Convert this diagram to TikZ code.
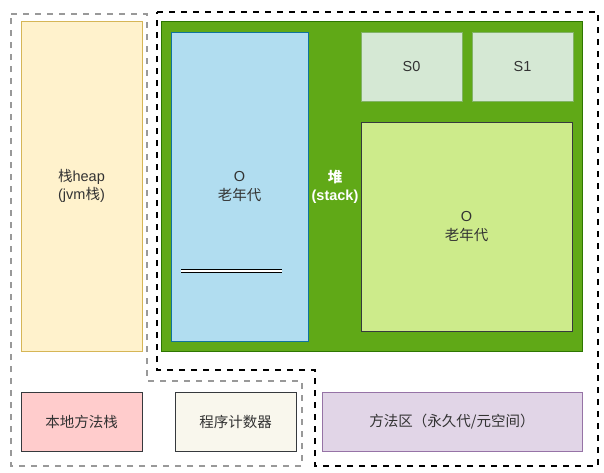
\documentclass[tikz,border=0pt]{standalone}
\usepackage{fontspec}
\setmainfont{Liberation Sans}
\newfontfamily\cjk{Noto Sans CJK SC}
\usetikzlibrary{positioning}

\definecolor{stackfill}{HTML}{FFF2CC}
\definecolor{stackline}{HTML}{D6B656}
\definecolor{heapfill}{HTML}{60A917}
\definecolor{heapline}{HTML}{2D7600}
\definecolor{oldfill}{HTML}{B1DDF0}
\definecolor{oldline}{HTML}{10739E}
\definecolor{survfill}{HTML}{D5E8D4}
\definecolor{survline}{HTML}{82B366}
\definecolor{edenfill}{HTML}{CDEB8B}
\definecolor{darkline}{HTML}{36393D}
\definecolor{nativefill}{HTML}{FFCCCC}
\definecolor{pcfill}{HTML}{F9F7ED}
\definecolor{methodfill}{HTML}{E1D5E7}
\definecolor{methodline}{HTML}{9673A6}
\definecolor{regiongray}{HTML}{999999}
\definecolor{txt}{HTML}{333333}

\begin{document}
\begin{tikzpicture}[x=1pt, y=-1pt, every node/.style={draw, line width=0.8pt, align=center, inner sep=0pt, outer sep=0pt, anchor=north west, text=txt, font=\fontsize{14.5}{18.5}\selectfont}, region/.style={line width=2pt, dash pattern=on 6pt off 6pt}]
\useasboundingbox (0,0) rectangle (604,472);

% Regions
\draw[region, regiongray] (11,14) -- (147,14) -- (147,381) -- (302,381) -- (302,466) -- (11,466) -- cycle;
\draw[region, black] (157,12) -- (598,12) -- (598,466) -- (315,466) -- (315,370) -- (157,370) -- cycle;

% Nodes
\node (stack) [fill=stackfill, draw=stackline, minimum width=121pt, minimum height=330pt] at (21,21) {{\cjk 栈}heap\\({jvm\cjk 栈})};
\node (heap) [fill=heapfill, draw=heapline, minimum width=421pt, minimum height=330pt] at (161,21) {};
\node (old) [fill=oldfill, draw=oldline, minimum width=137pt, minimum height=309pt] at (171,32) {O\\{\cjk 老年代}};
\node (s0) [fill=survfill, draw=survline, minimum width=101pt, minimum height=69pt] at (361,32) {S0};
\node (s1) [fill=survfill, draw=survline, minimum width=101pt, minimum height=69pt, right=10pt of s0.north east, anchor=north west] {S1};
\node (eden) [fill=edenfill, draw=darkline, minimum width=211pt, minimum height=209pt, below=21pt of s0.south west, anchor=north west] {O\\{\cjk 老年代}};
\node (heaplabel) [draw=none, anchor=center, text=white, font=\fontsize{14.5}{18.5}\selectfont\bfseries] at (335,187) {{\cjk\bfseries 堆}\\(stack)};

\node (native) [fill=nativefill, draw=darkline, minimum width=121pt, minimum height=59pt] at (21,392) {\cjk 本地方法栈};
\node (pc) [fill=pcfill, draw=darkline, minimum width=121pt, minimum height=59pt, right=33pt of native.north east, anchor=north west] {\cjk 程序计数器};
\node (method) [fill=methodfill, draw=methodline, minimum width=260pt, minimum height=59pt, right=26pt of pc.north east, anchor=north west] {\cjk 方法区（永久代/元空间）};

% Double line in old box
\coordinate (bar1) at (181,271);
\coordinate (bar2) at (282,271);
\draw[double distance=2.5pt, line width=1pt] (bar1) -- (bar2);
\end{tikzpicture}
\end{document}
